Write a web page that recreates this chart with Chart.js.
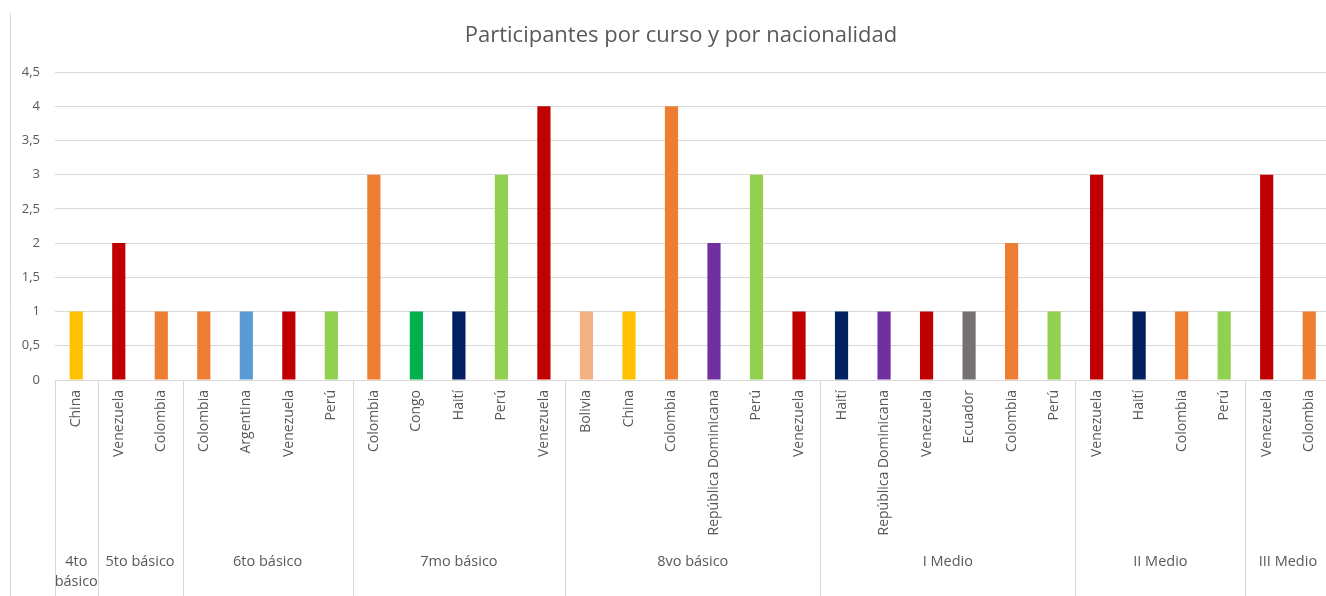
<!DOCTYPE html>
<html lang="es">
<head>
<meta charset="utf-8">
<script src="https://cdn.jsdelivr.net/npm/chart.js@4.4.1/dist/chart.umd.min.js"></script>
<style>
  html, body { margin: 0; padding: 0; background: #ffffff; overflow: hidden; }
  #wrap { position: relative; width: 1336px; height: 596px; }
  canvas { display: block; }
</style>
</head>
<body>
<div id="wrap"><canvas id="chart" width="1336" height="596"></canvas></div>
<script>
// Cursos (categoría superior) y cuántas nacionalidades tiene cada uno
const cursos = ['4to básico', '5to básico', '6to básico', '7mo básico', '8vo básico', 'I Medio', 'II Medio', 'III Medio'];
const nacionalidadesPorCurso = [1, 2, 4, 5, 6, 6, 4, 2];

// Nacionalidades (categoría inferior), en orden
const nacionalidades = [
  'China',
  'Venezuela', 'Colombia',
  'Colombia', 'Argentina', 'Venezuela', 'Perú',
  'Colombia', 'Congo', 'Haití', 'Perú', 'Venezuela',
  'Bolivia', 'China', 'Colombia', 'República Dominicana', 'Perú', 'Venezuela',
  'Haití', 'República Dominicana', 'Venezuela', 'Ecuador', 'Colombia', 'Perú',
  'Venezuela', 'Haití', 'Colombia', 'Perú',
  'Venezuela', 'Colombia'
];

// Número de participantes
const participantes = [
  1,
  2, 1,
  1, 1, 1, 1,
  3, 1, 1, 3, 4,
  1, 1, 4, 2, 3, 1,
  1, 1, 1, 1, 2, 1,
  3, 1, 1, 1,
  3, 1
];

const yTicks = [0, 0.5, 1, 1.5, 2, 2.5, 3, 3.5, 4, 4.5];

const titulo = 'Participantes por curso y por nacionalidad';

// Color de cada nacionalidad
const colorPais = {
  'China': '#FFC000',
  'Venezuela': '#C00000',
  'Colombia': '#ED7D31',
  'Argentina': '#5B9BD5',
  'Perú': '#92D050',
  'Congo': '#00B050',
  'Haití': '#002060',
  'Bolivia': '#F4B183',
  'República Dominicana': '#7030A0',
  'Ecuador': '#767171'
};

const FONT = '"Open Sans", "Noto Sans", sans-serif';
const TEXT = '#595959';
const LINE = '#d9d9d9';

// Título centrado sobre el marco del gráfico, y eje de dos niveles:
// separadores y nombres de curso bajo las nacionalidades
const cursosPlugin = {
  id: 'cursos',
  afterDraw(chart) {
    const ctx = chart.ctx;
    const x = chart.scales.x;
    const top = chart.chartArea.bottom;
    const bottom = chart.height;
    ctx.save();

    ctx.fillStyle = TEXT;
    ctx.font = '22px ' + FONT;
    ctx.textAlign = 'center';
    ctx.textBaseline = 'middle';
    ctx.fillText(titulo, 681, 36);

    // marco izquierdo
    ctx.strokeStyle = LINE;
    ctx.lineWidth = 1;
    ctx.beginPath();
    ctx.moveTo(10.5, 13);
    ctx.lineTo(10.5, bottom);
    ctx.stroke();

    let start = 0;
    const bounds = [0];
    nacionalidadesPorCurso.forEach(n => { start += n; bounds.push(start); });
    ctx.beginPath();
    bounds.forEach(b => {
      const px = Math.round(x.getPixelForValue(b - 0.5)) + 0.5;
      ctx.moveTo(px, top);
      ctx.lineTo(px, bottom);
    });
    ctx.stroke();

    ctx.font = '14.5px ' + FONT;
    for (let i = 0; i < cursos.length; i++) {
      const l = x.getPixelForValue(bounds[i] - 0.5);
      const r = x.getPixelForValue(bounds[i + 1] - 0.5);
      const cx = (l + r) / 2;
      const maxW = r - l - 4;
      const words = cursos[i].split(' ');
      const lines = [];
      let cur = '';
      words.forEach(w => {
        const t = cur ? cur + ' ' + w : w;
        if (cur && ctx.measureText(t).width > maxW) { lines.push(cur); cur = w; }
        else cur = t;
      });
      lines.push(cur);
      lines.forEach((ln, k) => ctx.fillText(ln, cx, 562 + k * 20));
    }
    ctx.restore();
  }
};

new Chart(document.getElementById('chart'), {
  type: 'bar',
  data: {
    labels: nacionalidades,
    datasets: [{
      data: participantes,
      backgroundColor: nacionalidades.map(n => colorPais[n]),
      barPercentage: 0.31,
      categoryPercentage: 1
    }]
  },
  options: {
    responsive: false,
    animation: false,
    events: [],
    layout: { padding: { left: 0, right: 0, top: 72, bottom: 0 } },
    plugins: {
      legend: { display: false },
      tooltip: { enabled: false },
      title: { display: false }
    },
    scales: {
      x: {
        grid: { display: false, drawTicks: false },
        border: { display: true, color: LINE, width: 1 },
        ticks: {
          autoSkip: false,
          minRotation: 90,
          maxRotation: 90,
          padding: 10,
          color: TEXT,
          font: { family: FONT, size: 14 }
        },
        afterFit(scale) { scale.height = 216; }
      },
      y: {
        min: 0,
        max: 4.5,
        afterBuildTicks(scale) { scale.ticks = yTicks.map(v => ({ value: v })); },
        grid: { color: LINE, drawTicks: false },
        border: { display: false },
        ticks: {
          padding: 15,
          color: TEXT,
          font: { family: FONT, size: 13 },
          callback: v => String(v).replace('.', ',')
        },
        afterFit(scale) { scale.width = 55; }
      }
    }
  },
  plugins: [cursosPlugin]
});
</script>
</body>
</html>
